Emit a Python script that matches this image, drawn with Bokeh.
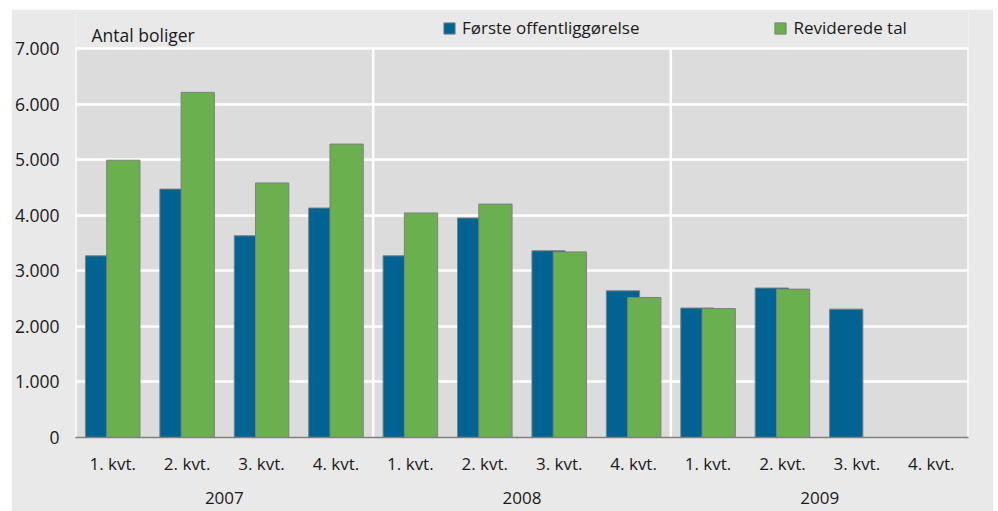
from bokeh.plotting import figure
from bokeh.models import (FactorRange, ColumnDataSource, FixedTicker, Legend,
                          LegendItem, Label, BoxAnnotation)
from bokeh.transform import dodge
from bokeh.embed import file_html
from bokeh.resources import INLINE

# ---- data ----
years = ["2007", "2008", "2009"]
quarters = ["1. kvt.", "2. kvt.", "3. kvt.", "4. kvt."]
first_pub = [3270, 4470, 3630, 4130,
             3270, 3950, 3360, 2640,
             2330, 2690, 2310, float("nan")]
revised = [4990, 6210, 4580, 5280,
           4040, 4200, 3340, 2520,
           2320, 2670, float("nan"), float("nan")]
y_ticks = [0, 1000, 2000, 3000, 4000, 5000, 6000, 7000]
series_names = ["Første offentliggørelse", "Reviderede tal"]
y_title = "Antal boliger"

FONT = "Open Sans"
BLUE = "#006391"
GREEN = "#6ab04f"
OUTER = "#e9e9e9"
INNER = "#dcdcdc"
TXT = "#1a1a1a"

Y_MAX = y_ticks[-1]
PLOT_PX = 389          # pixel height of the 0..7000 area
TOP_PX = 37            # space above the 7000 line inside the frame
y_end = Y_MAX * (PLOT_PX + TOP_PX) / PLOT_PX

factors = [(y, q) for y in years for q in quarters]
src = ColumnDataSource(dict(x=factors, first=first_pub, revised=revised))

x_range = FactorRange(*factors, group_padding=0, factor_padding=0, range_padding=0)

p = figure(x_range=x_range, y_range=(0, y_end), output_backend="svg",
           toolbar_location=None, width=982, height=502,
           min_border_left=62, min_border_right=25, min_border_top=2,
           min_border_bottom=74)
p.margin = (9, 0, 0, 11)
p.background_fill_color = OUTER
p.border_fill_color = OUTER
p.outline_line_color = None

# inner plot area
p.add_layout(BoxAnnotation(bottom=0, top=Y_MAX, fill_color=INNER, fill_alpha=1,
                           line_color=None, level="image"))

# grid
p.xgrid.grid_line_color = None
p.ygrid.ticker = FixedTicker(ticks=y_ticks)
p.ygrid.grid_line_color = "white"
p.ygrid.grid_line_width = 2.5
bounds = [i * len(quarters) for i in range(len(years) + 1)]
p.segment(x0=bounds, y0=[0] * len(bounds), x1=bounds, y1=[Y_MAX] * len(bounds),
          line_color="white", line_width=2.5, level="underlay")

b1 = p.vbar(x=dodge("x", -0.143, range=p.x_range), top="first", width=0.447,
            source=src, fill_color=BLUE, line_color="#7f7f7f", line_width=1)
b2 = p.vbar(x=dodge("x", 0.143, range=p.x_range), top="revised", width=0.447,
            source=src, fill_color=GREEN, line_color="#7f7f7f", line_width=1)

# y axis
p.yaxis.ticker = FixedTicker(ticks=y_ticks)
p.yaxis.major_label_overrides = {t: f"{t:,}".replace(",", ".") for t in y_ticks}
p.yaxis.axis_line_color = None
p.yaxis.major_tick_line_color = None
p.yaxis.minor_tick_line_color = None
p.yaxis.major_tick_out = 0
p.yaxis.major_tick_in = 0
p.yaxis.minor_tick_out = 0
p.yaxis.major_label_standoff = 16
p.yaxis.major_label_text_font = FONT
p.yaxis.major_label_text_font_size = "17.5px"
p.yaxis.major_label_text_color = TXT

# x axis
xa = p.xaxis[0]
xa.axis_line_color = "#7f7f7f"
xa.axis_line_width = 1.5
xa.major_tick_line_color = None
xa.minor_tick_line_color = None
xa.major_tick_out = 0
xa.major_tick_in = 0
xa.minor_tick_out = 0
xa.major_label_standoff = 14
xa.major_label_text_font = FONT
xa.major_label_text_font_size = "17px"
xa.major_label_text_color = TXT
xa.group_text_font = FONT
xa.group_text_font_size = "17px"
xa.group_text_color = TXT
xa.group_text_font_style = "normal"
xa.separator_line_color = None

# legend
legend = Legend(items=[LegendItem(label=series_names[0], renderers=[b1]),
                       LegendItem(label=series_names[1], renderers=[b2])],
                orientation="horizontal", location=(367, 398),
                glyph_width=14, glyph_height=14, label_standoff=6, spacing=134,
                padding=0, margin=0, border_line_color=None,
                background_fill_alpha=0, label_text_font=FONT,
                label_text_font_size="17px", label_text_color=TXT)
p.add_layout(legend, "center")

p.add_layout(Label(x=0, y=Y_MAX, x_offset=16, y_offset=14, text=y_title,
                   text_font=FONT, text_font_size="17.5px", text_color=TXT,
                   text_baseline="alphabetic"))

open("out.html", "w").write(file_html(p, INLINE))
